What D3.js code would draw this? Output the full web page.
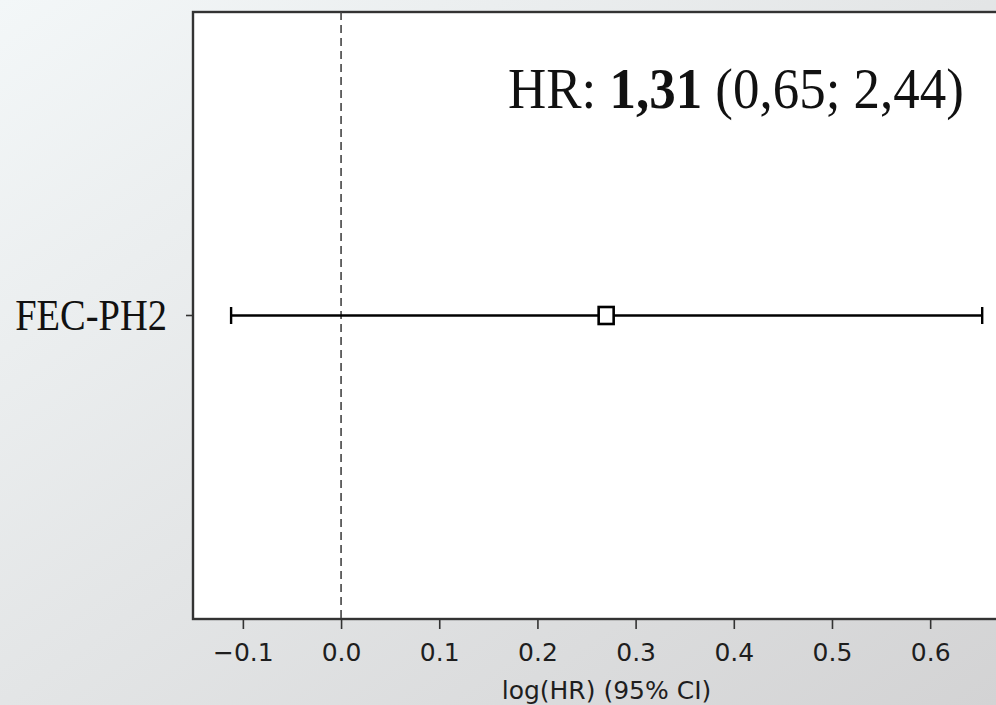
<!DOCTYPE html>
<html>
<head>
<meta charset="utf-8">
<script src="https://cdn.jsdelivr.net/npm/d3@7"></script>
<style>
  html, body { margin: 0; padding: 0; overflow: hidden; }
  svg { display: block; }
</style>
</head>
<body>
<div id="forest"></div>
<script>
// data
var labels = ["FEC-PH2"];
var logHR = [0.27];
var ciLow = [-0.112];
var ciHigh = [0.653];
var xTicks = [-0.1, 0.0, 0.1, 0.2, 0.3, 0.4, 0.5, 0.6];
var note = { prefix: "HR: ", hr: "1,31", ci: " (0,65; 2,44)" };

var W = 996, H = 705;
var margin = { top: 12, right: -24, bottom: 86, left: 193 };

var svg = d3.select("#forest")
    .append("svg")
    .attr("width", W)
    .attr("height", H);

// slide background
var grad = svg.append("defs").append("linearGradient")
    .attr("id", "bg")
    .attr("x1", "0").attr("y1", "0")
    .attr("x2", "1").attr("y2", "1");
grad.append("stop").attr("offset", "0%").attr("stop-color", "#f3f7f8");
grad.append("stop").attr("offset", "100%").attr("stop-color", "#d3d3d4");
svg.append("rect").attr("width", W).attr("height", H).attr("fill", "url(#bg)");

var x = d3.scaleLinear()
    .domain([-0.1508, 0.6915])
    .range([margin.left, W - margin.right]);

var y = d3.scaleBand()
    .domain(labels)
    .range([margin.top, H - margin.bottom]);

var y0 = y.range()[0], y1 = y.range()[1];

// plot area
svg.append("rect")
    .attr("x", x.range()[0])
    .attr("y", y0)
    .attr("width", x.range()[1] - x.range()[0])
    .attr("height", y1 - y0)
    .attr("fill", "#ffffff")
    .attr("stroke", "#333")
    .attr("stroke-width", 2.4);

// reference line at 0
svg.append("line")
    .attr("x1", x(0)).attr("x2", x(0))
    .attr("y1", y0).attr("y2", y1)
    .attr("stroke", "#444")
    .attr("stroke-width", 1.6)
    .attr("stroke-dasharray", "8,5");

//X axis
var xAxis = svg.append("g")
    .attr("transform", "translate(0," + y1 + ")")
    .call(d3.axisBottom(x)
        .tickValues(xTicks)
        .tickSize(10)
        .tickPadding(14)
        .tickFormat(d3.format(".1f")));
xAxis.select(".domain").remove();
xAxis.selectAll(".tick line").attr("stroke", "#333").attr("stroke-width", 1.6);
xAxis.selectAll("text")
    .attr("fill", "#1e1e1e")
    .style("font-family", "DejaVu Sans")
    .style("font-size", "25px");

//Y axis (serif label, a little narrowed like the source)
var sx = 0.855;
var yAxis = svg.append("g")
    .attr("transform", "translate(" + x.range()[0] + ",0)")
    .call(d3.axisLeft(y).tickSize(7).tickPadding(18));
yAxis.select(".domain").remove();
yAxis.selectAll(".tick line").attr("stroke", "#333").attr("stroke-width", 1.6);
yAxis.selectAll("text")
    .attr("x", -26 / sx)
    .attr("transform", "scale(" + sx + ",1)")
    .attr("fill", "#111")
    .style("font-family", "Liberation Serif")
    .style("font-size", "45px");

// error bars
var rows = labels.map(function (d, i) {
    return { label: d, est: logHR[i], lo: ciLow[i], hi: ciHigh[i] };
});
var cy = function (d) { return y(d.label) + y.bandwidth() / 2; };

var g = svg.append("g");
g.selectAll(".ci")
    .data(rows).enter()
    .append("line")
    .attr("x1", function (d) { return x(d.lo); })
    .attr("x2", function (d) { return x(d.hi); })
    .attr("y1", cy).attr("y2", cy)
    .attr("stroke", "#000").attr("stroke-width", 2.4);

["lo", "hi"].forEach(function (k) {
    g.selectAll(".cap-" + k)
        .data(rows).enter()
        .append("line")
        .attr("x1", function (d) { return x(d[k]); })
        .attr("x2", function (d) { return x(d[k]); })
        .attr("y1", function (d) { return cy(d) - 8.5; })
        .attr("y2", function (d) { return cy(d) + 8.5; })
        .attr("stroke", "#000").attr("stroke-width", 2.4);
});

g.selectAll(".pt")
    .data(rows).enter()
    .append("rect")
    .attr("x", function (d) { return x(d.est) - 7.5; })
    .attr("y", function (d) { return cy(d) - 8.5; })
    .attr("width", 15)
    .attr("height", 17)
    .attr("fill", "#fff")
    .attr("stroke", "#000")
    .attr("stroke-width", 2.6);

// annotation
var t = svg.append("text")
    .attr("transform", "translate(508,108) scale(0.913,1)")
    .style("font-family", "Liberation Serif")
    .style("font-size", "58px")
    .attr("fill", "#111");
t.append("tspan").text(note.prefix);
t.append("tspan").attr("font-weight", "bold").text(note.hr);
t.append("tspan").text(note.ci);

// x label
svg.append("text")
    .attr("x", (x.range()[0] + x.range()[1]) / 2)
    .attr("y", 699)
    .attr("text-anchor", "middle")
    .style("font-family", "DejaVu Sans")
    .style("font-size", "25px")
    .attr("fill", "#1e1e1e")
    .text("log(HR) (95% CI)");
</script>
</body>
</html>
